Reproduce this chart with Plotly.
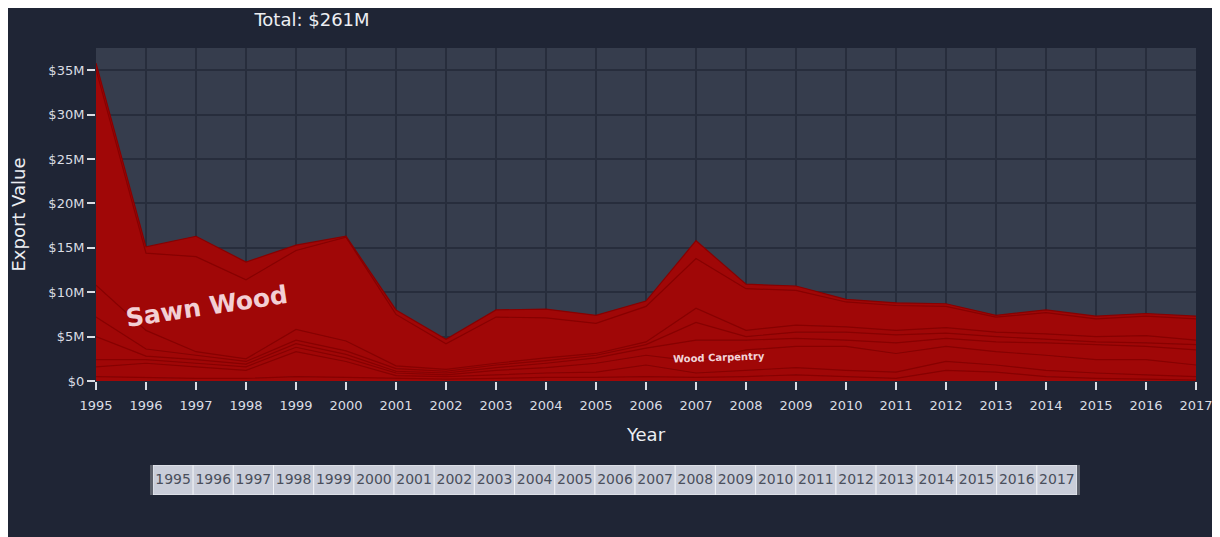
import plotly.graph_objects as go

years = list(range(1995, 2018))

# export values per product, in $M, stacked bottom -> top
wood_charcoal = [0.5, 0.4, 0.3, 0.3, 0.5, 0.4, 0.3, 0.2, 0.3, 0.4, 0.4, 0.5,
                 0.4, 0.5, 0.7, 0.5, 0.3, 1.2, 1.0, 0.5, 0.3, 0.2, 0.1]
particle_board = [1.1, 1.6, 1.3, 0.9, 2.8, 1.8, 0.3, 0.3, 0.4, 0.5, 0.6, 1.3,
                  0.5, 0.7, 0.8, 0.7, 0.7, 1.0, 0.8, 0.7, 0.6, 0.5, 0.4]
wood_carpentry = [0.8, 0.4, 0.4, 0.4, 0.5, 0.4, 0.3, 0.2, 0.5, 0.6, 1.0, 1.1,
                  1.3, 2.3, 2.4, 2.7, 2.1, 1.7, 1.5, 1.7, 1.5, 1.7, 1.3]
plywood = [2.6, 0.4, 0.4, 0.3, 0.4, 0.4, 0.2, 0.2, 0.3, 0.5, 0.6, 0.8,
           2.4, 1.1, 0.9, 0.7, 1.2, 0.9, 1.1, 1.4, 1.7, 1.5, 1.7]
veneer_sheets = [2.2, 0.8, 0.5, 0.3, 0.4, 0.4, 0.3, 0.2, 0.3, 0.3, 0.3, 0.4,
                 2.0, 0.4, 0.7, 0.9, 0.9, 0.6, 0.6, 0.4, 0.3, 0.4, 0.6]
fibreboard = [3.6, 2.1, 0.4, 0.3, 1.2, 1.1, 0.3, 0.2, 0.2, 0.3, 0.2, 0.3,
              1.6, 0.7, 0.8, 0.6, 0.5, 0.6, 0.5, 0.6, 0.6, 0.8, 0.5]
sawn_wood = [24.3, 8.7, 10.7, 8.9, 8.9, 11.7, 5.8, 2.9, 5.2, 4.5, 3.4, 4.0,
             5.6, 4.7, 3.9, 2.8, 2.8, 2.4, 1.7, 2.4, 2.0, 2.2, 2.4]
rough_wood = [0.7, 0.7, 2.3, 2.0, 0.6, 0.1, 0.5, 0.5, 0.8, 1.0, 0.9, 0.6,
              2.0, 0.5, 0.5, 0.3, 0.3, 0.3, 0.2, 0.3, 0.3, 0.3, 0.3]

products = [
    ("Wood Charcoal", wood_charcoal),
    ("Particle Board", particle_board),
    ("Wood Carpentry", wood_carpentry),
    ("Plywood", plywood),
    ("Veneer Sheets", veneer_sheets),
    ("Fibreboard", fibreboard),
    ("Sawn Wood", sawn_wood),
    ("Rough Wood", rough_wood),
]

y_ticks = [0, 5, 10, 15, 20, 25, 30, 35]
y_ticklabels = ["$0", "$5M", "$10M", "$15M", "$20M", "$25M", "$30M", "$35M"]

total = sum(sum(v) for _, v in products)

paper_bg = "#1f2535"
plot_bg = "#363d4d"
grid_col = "#272d3c"
txt_col = "#dadde4"
title_col = "#eceef2"

fig = go.Figure()

for name, vals in products:
    fig.add_trace(go.Scatter(
        x=years,
        y=[v * 1e6 for v in vals],
        name=name,
        mode="lines",
        stackgroup="one",
        line=dict(color="#880000", width=1.2),
        fillcolor="#a00707",
        showlegend=False,
        hovertemplate=name + "<br>%{x}: $%{y:.3s}<extra></extra>",
    ))

# year selector row under the chart
fig.add_trace(go.Bar(
    x=years,
    y=[1] * len(years),
    width=1,
    marker=dict(color="#c9cdd9", line=dict(color="#eef0f4", width=1)),
    xaxis="x2",
    yaxis="y2",
    showlegend=False,
    hoverinfo="skip",
))
fig.add_trace(go.Scatter(
    x=years,
    y=[0.5] * len(years),
    text=[str(y) for y in years],
    mode="text",
    textfont=dict(size=14, color="#4a4f5c"),
    xaxis="x2",
    yaxis="y2",
    showlegend=False,
    hoverinfo="skip",
))

# labels inside the areas
fig.add_annotation(x=1997.2, y=8.4e6, text="<b>Sawn Wood</b>", showarrow=False,
                   textangle=-8.5, font=dict(size=25, color="rgba(255,236,242,0.88)"))
fig.add_annotation(x=2007.45, y=2.6e6, text="<b>Wood Carpentry</b>", showarrow=False,
                   textangle=-2, font=dict(size=10, color="rgba(255,240,245,0.9)"))

fig.update_layout(
    width=1212,
    height=529,
    margin=dict(l=88, r=24, t=40, b=42),
    paper_bgcolor=paper_bg,
    plot_bgcolor=plot_bg,
    font=dict(family="DejaVu Sans", color=txt_col, size=13),
    title=dict(text="Total: $%dM" % round(total + 2), x=304 / 1212, xanchor="center",
               xref="container", y=1 - 12 / 529, yanchor="middle",
               font=dict(size=18, color=title_col)),
    xaxis=dict(
        title=dict(text="Year", font=dict(size=18, color=title_col), standoff=16),
        range=[1995, 2017],
        tickmode="array",
        tickvals=years,
        ticks="outside",
        ticklen=8,
        tickwidth=1.5,
        tickcolor=txt_col,
        ticklabelstandoff=4,
        showgrid=True,
        gridcolor=grid_col,
        gridwidth=1.5,
        zeroline=False,
        anchor="y",
        automargin=False,
    ),
    yaxis=dict(
        title=dict(text="Export Value", font=dict(size=18, color=title_col), standoff=24),
        domain=[114 / 447, 1],
        range=[0, 37.5e6],
        tickvals=[v * 1e6 for v in y_ticks],
        ticktext=y_ticklabels,
        ticks="outside",
        ticklen=8,
        tickwidth=1.5,
        tickcolor=txt_col,
        showgrid=True,
        gridcolor=grid_col,
        gridwidth=1.5,
        zeroline=False,
        automargin=False,
    ),
    xaxis2=dict(
        domain=[57 / 1100, 981 / 1100],
        range=[1994.5, 2017.5],
        anchor="y2",
        showticklabels=False,
        showgrid=False,
        zeroline=False,
        fixedrange=True,
    ),
    yaxis2=dict(
        domain=[0, 30 / 447],
        range=[0, 1],
        anchor="x2",
        showticklabels=False,
        showgrid=False,
        zeroline=False,
        showline=True,
        mirror=True,
        linecolor="#5c606b",
        linewidth=3,
        fixedrange=True,
    ),
)

fig.write_html("out.html")
